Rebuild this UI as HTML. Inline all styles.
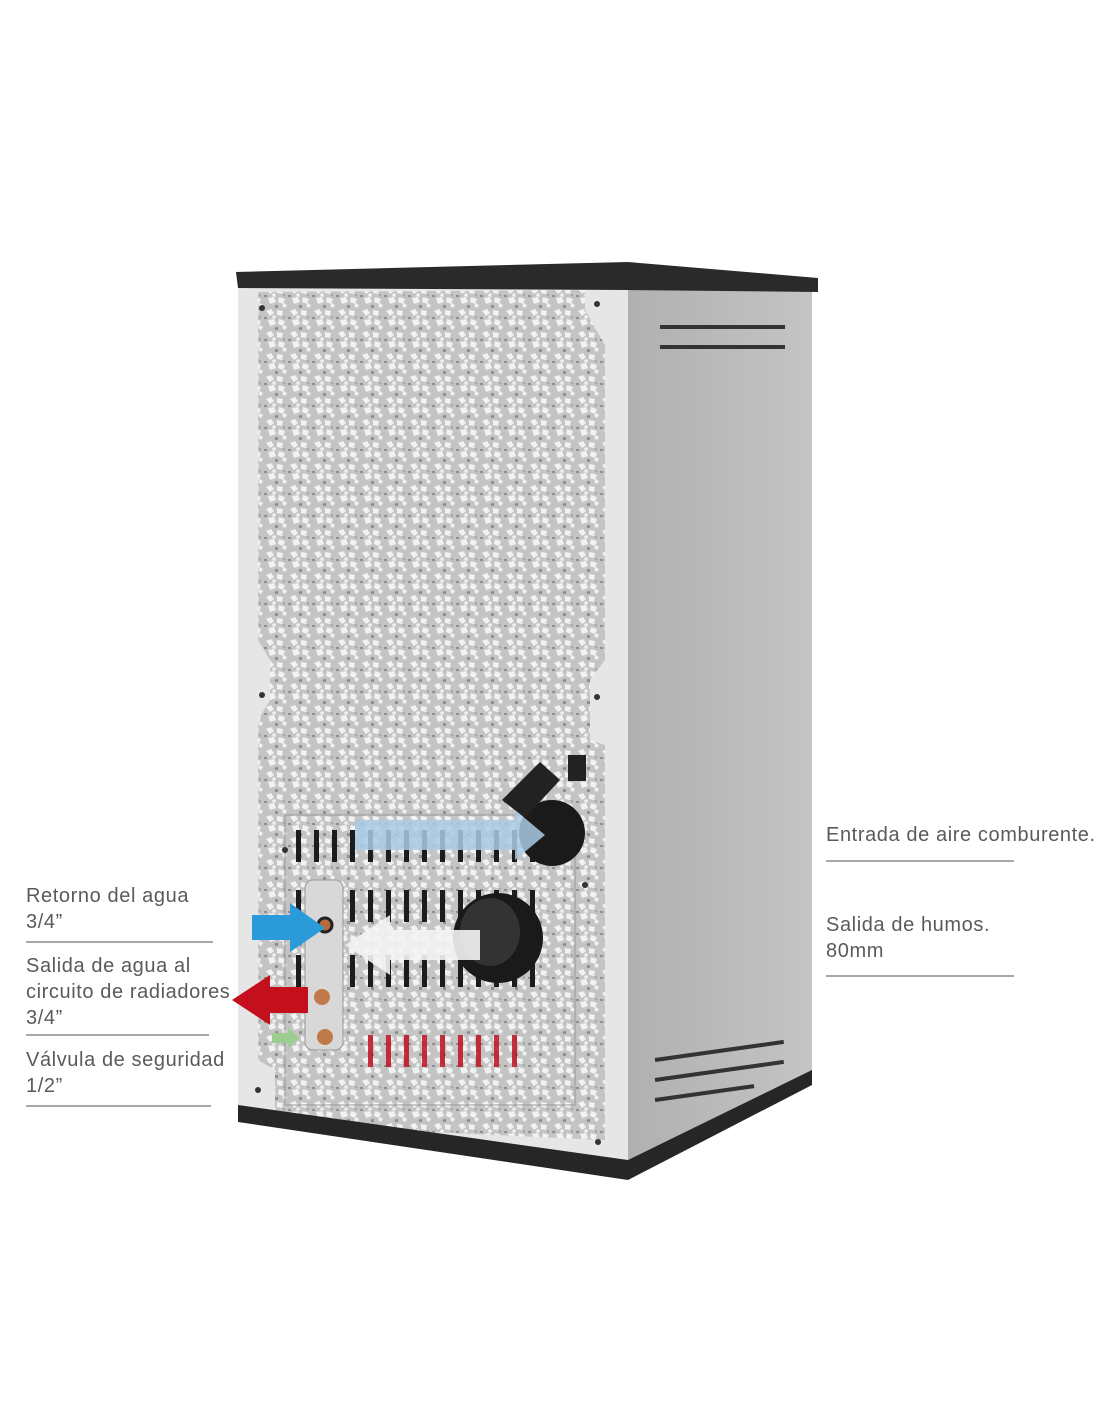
<!DOCTYPE html>
<html><head><meta charset="utf-8"><style>
html,body{margin:0;padding:0;background:#fff;width:1100px;height:1422px;overflow:hidden}
.t{position:absolute;font-family:"Liberation Sans",sans-serif;font-size:20px;color:#5a5a5a;line-height:26px;letter-spacing:0.6px}
.l{position:absolute;height:2px;background:#a8a8a8}
</style></head><body>
<svg width="1100" height="1422" style="position:absolute;left:0;top:0">
<defs>
<pattern id="tx" width="24" height="22" patternUnits="userSpaceOnUse">
<rect width="24" height="22" fill="#c4c4c4"/>
<path d="M2 3l5-2 3 4-4 3z M13 2l6 1-1 5-5-1z M4 12l6-1 2 5-6 2z M15 11l6 2-2 5-5-2z M9 7l3 1-1 3-3-1z M20 17l3 2-2 3-3-2z" fill="#f2f2f2"/>
<path d="M0 9l3 0 0 2-3 0z M11 19l3 0 0 3-3 0z M19 8l2 1-1 2z" fill="#8f8f8f"/>
</pattern>
<linearGradient id="sd" x1="0" x2="1"><stop offset="0" stop-color="#b0b0b0"/><stop offset="1" stop-color="#c4c4c4"/></linearGradient>
</defs>
<polygon points="628,288 812,290 812,1072 628,1162" fill="url(#sd)"/>
<polygon points="238,285 628,285 628,1162 238,1108" fill="#e6e6e6"/>
<polygon points="258,292 585,290 585,310 605,345 605,660 590,680 590,740 605,745 605,1140 275,1125 275,1070 258,1060 258,720 270,700 270,660 258,640" fill="url(#tx)"/>
<rect x="285" y="815" width="290" height="290" fill="url(#tx)" stroke="#999" stroke-width="1"/>
<g fill="#1c1c1c">
<g id="row1">
<rect x="296" y="830" width="5" height="32"/><rect x="314" y="830" width="5" height="32"/><rect x="332" y="830" width="5" height="32"/><rect x="350" y="830" width="5" height="32"/><rect x="368" y="830" width="5" height="32"/><rect x="386" y="830" width="5" height="32"/><rect x="404" y="830" width="5" height="32"/><rect x="422" y="830" width="5" height="32"/><rect x="440" y="830" width="5" height="32"/><rect x="458" y="830" width="5" height="32"/><rect x="476" y="830" width="5" height="32"/><rect x="494" y="830" width="5" height="32"/><rect x="512" y="830" width="5" height="32"/><rect x="530" y="830" width="5" height="32"/>
</g>
<use href="#row1" y="60"/><use href="#row1" y="125"/>
</g>
<g fill="#c01020" opacity="0.85">
<rect x="368" y="1035" width="5" height="32"/><rect x="386" y="1035" width="5" height="32"/><rect x="404" y="1035" width="5" height="32"/><rect x="422" y="1035" width="5" height="32"/><rect x="440" y="1035" width="5" height="32"/><rect x="458" y="1035" width="5" height="32"/><rect x="476" y="1035" width="5" height="32"/><rect x="494" y="1035" width="5" height="32"/><rect x="512" y="1035" width="5" height="32"/>
</g>
<rect x="305" y="880" width="38" height="170" rx="8" fill="#d8d8d8" stroke="#999"/>
<circle cx="325" cy="925" r="7" fill="#b86a3a" stroke="#222" stroke-width="3"/>
<circle cx="322" cy="997" r="8" fill="#c07a4a"/>
<circle cx="325" cy="1037" r="8" fill="#c07a4a"/>
<circle cx="498" cy="938" r="45" fill="#1a1a1a"/>
<ellipse cx="490" cy="932" rx="30" ry="34" fill="#333"/>
<circle cx="552" cy="833" r="33" fill="#1a1a1a"/>
<polygon points="502,800 540,762 560,780 525,818" fill="#222"/>
<rect x="568" y="755" width="18" height="26" fill="#222"/>
<polygon points="355,820 515,820 515,810 545,835 515,860 515,850 355,850" fill="#a9cbe6" opacity="0.85"/>
<polygon points="480,930 390,930 390,915 345,945 390,975 390,960 480,960" fill="#f4f4f4" opacity="0.9"/>
<polygon points="252,915 290,915 290,903 325,928 290,952 290,940 252,940" fill="#2a9ad8"/>
<polygon points="308,987 270,987 270,975 232,1000 270,1025 270,1013 308,1013" fill="#c4101c"/>
<polygon points="272,1033 288,1033 288,1028 300,1038 288,1048 288,1043 272,1043" fill="#9ccc90"/>
<g fill="#333"><rect x="660" y="325" width="125" height="4"/><rect x="660" y="345" width="125" height="4"/><rect x="655" y="1058" width="130" height="4" transform="rotate(-8 655 1060)"/><rect x="655" y="1078" width="130" height="4" transform="rotate(-8 655 1080)"/><rect x="655" y="1098" width="100" height="4" transform="rotate(-8 655 1100)"/></g>
<polygon points="236,272 628,262 818,278 818,292 628,290 238,288" fill="#2a2a2a"/>
<polygon points="238,1105 628,1160 812,1070 812,1085 628,1180 238,1122" fill="#262626"/>
<g fill="#333"><circle cx="262" cy="308" r="3"/><circle cx="597" cy="304" r="3"/><circle cx="262" cy="695" r="3"/><circle cx="597" cy="697" r="3"/><circle cx="258" cy="1090" r="3"/><circle cx="598" cy="1142" r="3"/><circle cx="585" cy="885" r="3"/><circle cx="285" cy="850" r="3"/></g>
</svg>
<div class="t" style="left:826px;top:822px">Entrada de aire comburente.</div>
<div class="l" style="left:826px;top:860px;width:188px"></div>
<div class="t" style="left:826px;top:912px">Salida de humos.<br>80mm</div>
<div class="l" style="left:826px;top:975px;width:188px"></div>
<div class="t" style="left:26px;top:883px">Retorno del agua<br>3/4”</div>
<div class="l" style="left:26px;top:941px;width:187px"></div>
<div class="t" style="left:26px;top:953px">Salida de agua al<br>circuito de radiadores<br>3/4”</div>
<div class="l" style="left:26px;top:1034px;width:183px"></div>
<div class="t" style="left:26px;top:1047px">Válvula de seguridad<br>1/2”</div>
<div class="l" style="left:26px;top:1105px;width:185px"></div>
</body></html>
